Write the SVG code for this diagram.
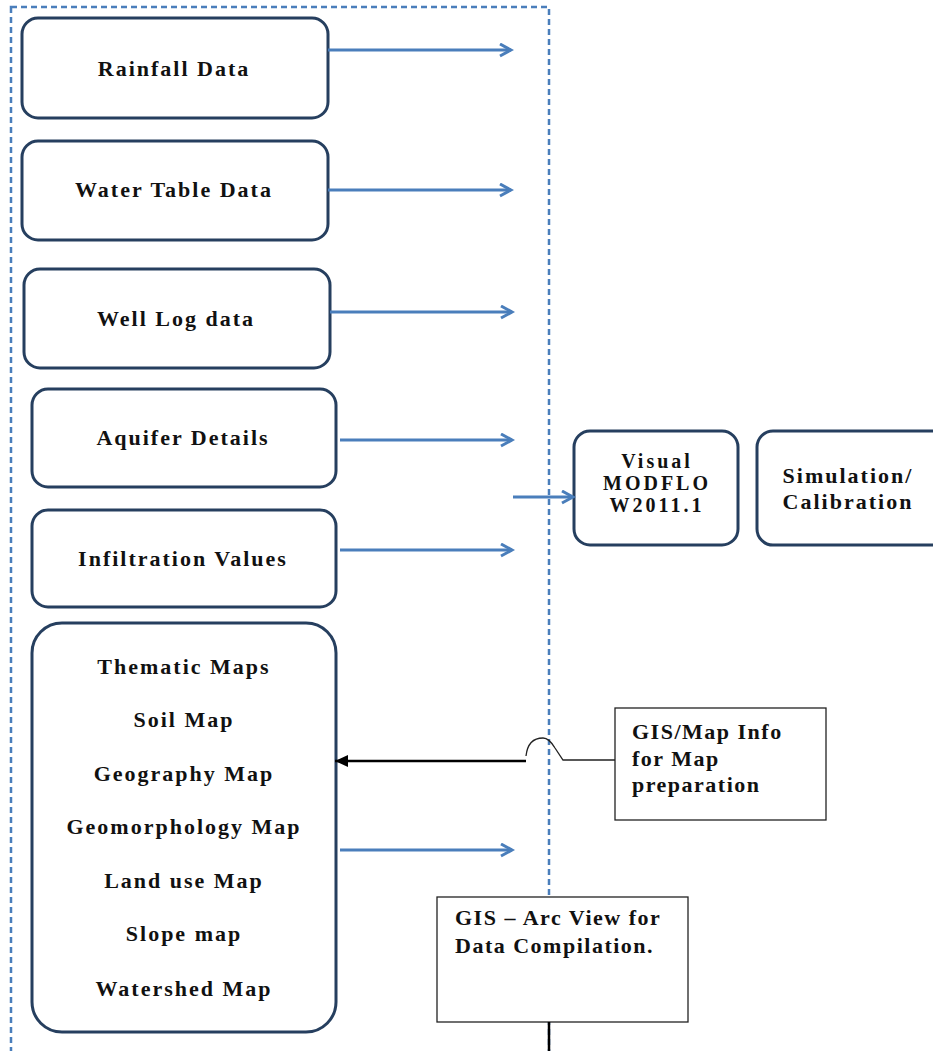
<svg xmlns="http://www.w3.org/2000/svg" width="933" height="1051" viewBox="0 0 933 1051">
<style>
.bg{fill:#ffffff}
.node{fill:#ffffff;stroke:#263f5f;stroke-width:3}
.plain{fill:#ffffff;stroke:#222222;stroke-width:1.3}
.t{font-family:"Liberation Serif","Times New Roman",serif;font-size:22px;font-weight:bold;fill:#111111;letter-spacing:2px}
.tc{text-anchor:middle}
.ts{font-size:20px;letter-spacing:3px}
.tr{font-family:"Liberation Serif","Times New Roman",serif;font-size:22px;font-weight:bold;fill:#111111;letter-spacing:1.5px}
.blue{fill:none;stroke:#4a7ebb;stroke-width:3;marker-end:url(#chev)}
.dash{fill:none;stroke:#4a7ebb;stroke-width:2.5;stroke-dasharray:6,4}
</style>
<defs>
<marker id="chev" markerUnits="userSpaceOnUse" markerWidth="16" markerHeight="16" refX="13" refY="7" orient="auto">
<path d="M2,1 L13,7 L2,13" fill="none" stroke="#4a7ebb" stroke-width="3"/>
</marker>
<marker id="tri" markerUnits="userSpaceOnUse" markerWidth="16" markerHeight="12" refX="13" refY="6" orient="auto">
<path d="M0,0 L13,6 L0,12 z" fill="#000000"/>
</marker>
</defs>
<rect class="bg" x="0" y="0" width="933" height="1051"/>
<rect id="boundary" class="dash" x="11" y="7" width="538" height="1070"/>

<g id="rainfall"><rect class="node" x="22" y="18" width="306" height="100" rx="16"/><text class="t tc" x="174" y="76">Rainfall Data</text></g>
<g id="watertable"><rect class="node" x="22" y="141" width="306" height="99" rx="16"/><text class="t tc" x="174" y="197">Water Table Data</text></g>
<g id="welllog"><rect class="node" x="24" y="269" width="306" height="99" rx="16"/><text class="t tc" x="176" y="326">Well Log data</text></g>
<g id="aquifer"><rect class="node" x="32" y="389" width="304" height="98" rx="16"/><text class="t tc" x="183" y="445">Aquifer Details</text></g>
<g id="infiltration"><rect class="node" x="32" y="510" width="304" height="97" rx="16"/><text class="t tc" x="183" y="566">Infiltration Values</text></g>
<g id="maps"><rect class="node" x="32" y="623" width="304" height="409" rx="30"/>
<text class="t tc" x="184" y="674">Thematic Maps</text>
<text class="t tc" x="184" y="727">Soil Map</text>
<text class="t tc" x="184" y="781">Geography Map</text>
<text class="t tc" x="184" y="834">Geomorphology Map</text>
<text class="t tc" x="184" y="888">Land use Map</text>
<text class="t tc" x="184" y="941">Slope map</text>
<text class="t tc" x="184" y="996">Watershed Map</text>
</g>
<g id="modflow"><rect class="node" x="574" y="431" width="164" height="114" rx="16"/>
<text class="t tc ts" x="657" y="468">Visual</text>
<text class="t tc ts" x="657" y="490">MODFLO</text>
<text class="t tc ts" x="657" y="512">W2011.1</text>
</g>
<g id="simulation"><rect class="node" x="757" y="431" width="190" height="114" rx="16"/>
<text class="t tc" x="848" y="483">Simulation/</text>
<text class="t tc" x="848" y="509">Calibration</text>
</g>
<g id="gismap"><rect class="plain" x="615" y="708" width="211" height="112"/>
<text class="tr" x="632" y="739">GIS/Map Info</text>
<text class="tr" x="632" y="766">for Map</text>
<text class="tr" x="632" y="792">preparation</text>
</g>
<g id="gisarc"><rect class="plain" x="437" y="897" width="251" height="125"/>
<text class="tr" x="455" y="925">GIS – Arc View for</text>
<text class="tr" x="455" y="953">Data Compilation.</text>
</g>

<g id="connectors">
<path class="blue" d="M328,50 H511"/>
<path class="blue" d="M328,190 H511"/>
<path class="blue" d="M330,312 H512"/>
<path class="blue" d="M340,440 H512"/>
<path class="blue" d="M340,550 H512"/>
<path class="blue" d="M340,850 H512"/>
<path class="blue" d="M513,497 H573"/>
<path d="M615,760 H563 L555,748 Q549,738 543,738 Q528,738 526,756" fill="none" stroke="#222222" stroke-width="1.3"/>
<path d="M526,761 H335" fill="none" stroke="#000000" stroke-width="2.5" marker-end="url(#tri)"/>
<path d="M549,1022 V1051" fill="none" stroke="#000000" stroke-width="2.5"/>
</g>
</svg>
